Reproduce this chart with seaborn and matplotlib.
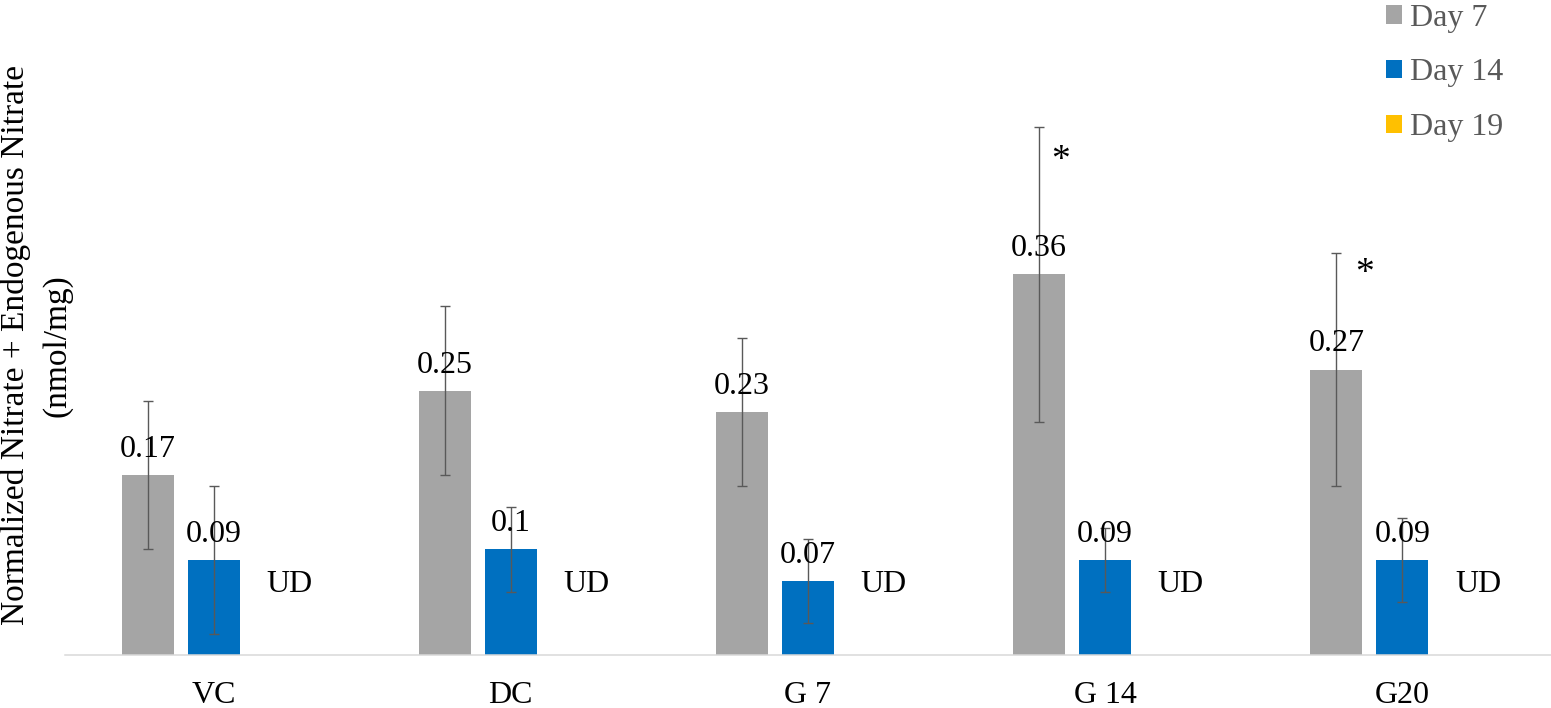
import pandas as pd
import matplotlib
matplotlib.use('Agg')
import matplotlib.pyplot as plt
import seaborn as sns

plt.rcParams['font.family'] = ['Liberation Serif', 'DejaVu Serif']

# Data
groups = ['VC', 'DC', 'G 7', 'G 14', 'G20']
days = ['Day 7', 'Day 14', 'Day 19']
day7 = [0.17, 0.25, 0.23, 0.36, 0.27]
day14 = [0.09, 0.10, 0.07, 0.09, 0.09]
day19 = [0, 0, 0, 0, 0]          # undetected (UD)
err7 = [0.07, 0.08, 0.07, 0.14, 0.11]
err14 = [0.07, 0.04, 0.04, 0.03, 0.04]
signif = ['', '', '', '*', '*']

colors = {'Day 7': '#a5a5a5', 'Day 14': '#0070c0', 'Day 19': '#ffc000'}

# long-form table for seaborn
df = pd.DataFrame({
    'group': groups * 3,
    'day': [d for d in days for _ in groups],
    'value': day7 + day14 + day19,
})

fig = plt.figure(figsize=(15.51, 7.08), dpi=100)
ax = fig.add_axes([65 / 1551, 53 / 708, 1486 / 1551, 655 / 708])

sns.barplot(data=df, x='group', y='value', hue='day', order=groups,
            hue_order=days, palette=colors, saturation=1, width=0.666,
            gap=0.21, errorbar=None, linewidth=0, ax=ax)
ax.set_xlim(-0.5, 4.5)

bars = list(ax.containers[:3])
x7 = [p.get_x() + p.get_width() / 2 for p in bars[0]]
x14 = [p.get_x() + p.get_width() / 2 for p in bars[1]]
x19 = [p.get_x() + p.get_width() / 2 for p in bars[2]]

# value labels on Day 7 and Day 14
ax.bar_label(bars[0], labels=[f'{v:g}' for v in day7], padding=8, fontsize=23)
ax.bar_label(bars[1], labels=[f'{v:g}' for v in day14], padding=8, fontsize=23)

# error bars
ax.errorbar(x7, day7, yerr=err7, fmt='none', ecolor='#595959',
            elinewidth=1.0, capsize=3.6, capthick=1.0)
ax.errorbar(x14, day14, yerr=err14, fmt='none', ecolor='#595959',
            elinewidth=1.0, capsize=3.6, capthick=1.0)

# Day 19 not detected
for x in x19:
    ax.annotate('UD', (x, 0), xytext=(7, 45), textcoords='offset points',
                ha='center', va='baseline', fontsize=23)

# significance marks
star_offsets = {3: (15, -31), 4: (20, -21)}
for i, s in enumerate(signif):
    if s:
        ax.annotate(s, (x7[i], day7[i] + err7[i]), xytext=star_offsets[i],
                    textcoords='offset points', ha='center', va='baseline',
                    fontsize=27)

ax.set_ylim(0, 655 / 1057)
ax.set_yticks([])
ax.set_xlabel('')
ax.set_ylabel('Normalized Nitrate + Endogenous Nitrate\n(nmol/mg)',
              fontsize=24, linespacing=1.45)
ax.yaxis.set_label_coords(0.005, 0.473)
ax.tick_params(axis='x', length=0, pad=19, labelsize=23)

for side in ['left', 'top', 'right']:
    ax.spines[side].set_visible(False)
ax.spines['bottom'].set_color('#d9d9d9')
ax.spines['bottom'].set_linewidth(1.1)

sns.move_legend(ax, 'center left', bbox_to_anchor=(1386 / 1551, 1 - 73 / 708),
                bbox_transform=fig.transFigure, frameon=False, title=None,
                fontsize=23, handlelength=0.5, handleheight=0.5,
                handletextpad=0.25, labelspacing=0.8, borderpad=0,
                borderaxespad=0, labelcolor='#595959')

fig.savefig('out.png', dpi=100)
